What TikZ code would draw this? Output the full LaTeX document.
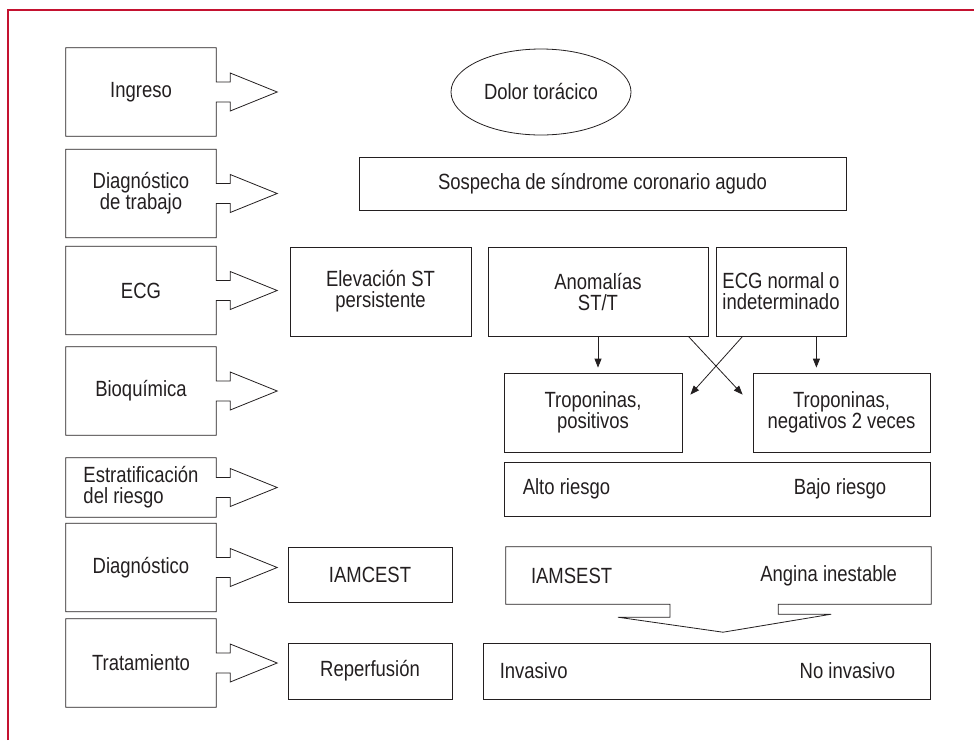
\documentclass[tikz,border=0pt]{standalone}
\usepackage{fontspec}
\setmainfont{Liberation Sans}[FakeStretch=0.84]
\usetikzlibrary{shapes.geometric,arrows.meta,positioning,calc}
\definecolor{framered}{RGB}{196,18,48}
\definecolor{ink}{HTML}{231F20}

\begin{document}
\begin{tikzpicture}[x=1pt,y=-1pt,inner sep=0pt,
    font=\fontsize{22}{21}\selectfont,text=ink,
    box/.style={draw=ink,line width=0.8pt,align=center},
    stage/.style={align=center,minimum width=150pt,minimum height=88pt},
    outline/.style={draw=ink,line width=0.8pt,line join=miter},
    flow/.style={draw=ink,line width=0.8pt,-{Triangle[length=9pt,width=7pt]}},
    rim/.style={draw=framered,line width=1.6pt}]

  \useasboundingbox (0,0) rectangle (974,740);
  \draw[rim] (8,740) -- (8,10) -- (974,10);

  \begin{scope}[every node/.style={stage}]
    \node (ingreso)  at (141,92)    {Ingreso};
    \node (diagtrab) at (141,193.5) {Diagnóstico\\de trabajo};
    \node (ecg)      at (141,290.5) {ECG};
    \node (bioq)     at (141,391)   {Bioquímica};
    \node[minimum height=59pt,align=left] (estrat) at (141,487.5) {Estratificación\\del riesgo};
    \node (diag)     at (141,567.5) {Diagnóstico};
    \node (trat)     at (141,663)   {Tratamiento};
  \end{scope}

  \foreach \n in {ingreso,diagtrab,ecg,bioq,estrat,diag,trat}
    \draw[outline] (\n.north west) -- (\n.north east) -- ($(\n.east)+(0,-10)$)
      -- ++(14,0) -- ++(0,-9) -- ($(\n.east)+(61,0)$) -- ($(\n.east)+(14,19)$)
      -- ++(0,-9) -- ++(-14,0) -- (\n.south east) -- (\n.south west) -- cycle;

  \node[box,ellipse,minimum width=180pt,minimum height=86pt] (dolor) at (541,92) {Dolor torácico};

  \begin{scope}[every node/.style={box}]
    \node[minimum width=487pt,minimum height=53pt] (sospecha) at (602.5,183.5) {Sospecha de síndrome coronario agudo};
    \node[minimum width=181pt,minimum height=89pt] (elev)     at (380.5,291.5) {Elevación ST\\persistente};
    \node[minimum width=220pt,minimum height=89pt] (anom)     at (598,291.5)   {Anomalías\\ST/T};
    \node[minimum width=130pt,minimum height=89pt] (ecgnorm)  at (781,291.5)   {ECG normal o\\indeterminado};
    \node[minimum width=178pt,minimum height=79pt] (tpos)     at (593,412.5)   {Troponinas,\\positivos};
    \node[minimum width=177pt,minimum height=79pt] (tneg)     at (841.5,412.5) {Troponinas,\\negativos 2 veces};
    \node[minimum width=426pt,minimum height=54pt] (riesgo)   at (717,489)     {};
    \node[minimum width=164pt,minimum height=55pt] (iamcest)  at (370,574.5)   {IAMCEST};
    \node[minimum width=164pt,minimum height=56pt] (reperf)   at (370,671)     {Reperfusión};
    \node[minimum width=447pt,minimum height=56pt] (manejo)   at (706.5,671)   {};
  \end{scope}

  \node[minimum width=425pt,minimum height=57pt] (sest) at (718.5,575.5) {};
  \draw[outline] (sest.north west) -- (sest.north east) -- (sest.south east)
    -- ++(-153,0) -- ++(0,10) -- ++(53,0) -- ($(sest.south)+(4.5,28)$)
    -- ($(sest.south)+(-100.5,13)$) -- ++(52,0) -- ++(0,-13) -- (sest.south west) -- cycle;

  \node[right=19pt of riesgo.west] (alto) {Alto riesgo};
  \node[left=44pt of riesgo.east]  (bajo) {Bajo riesgo};
  \node[right=25pt of sest.west]   (sin)  {IAMSEST};
  \node[left=34pt of sest.east]    (ai)   {Angina inestable};
  \node[right=17pt of manejo.west] (inv)  {Invasivo};
  \node[left=35pt of manejo.east]  (noinv) {No invasivo};

  \draw[flow,shorten >=5pt] (anom.south) -- (anom.south |- tpos.north);
  \draw[flow,shorten >=5pt] ([xshift=-30pt]ecgnorm.south east) -- ([xshift=-30pt]ecgnorm.south east |- tneg.north);
  \draw[flow] ([xshift=-20pt]anom.south east) -- ([xshift=-10pt,yshift=-22pt]tneg.north west);
  \draw[flow] ([xshift=27pt]ecgnorm.south west) -- ([xshift=8pt,yshift=-22pt]tpos.north east);

\end{tikzpicture}
\end{document}
